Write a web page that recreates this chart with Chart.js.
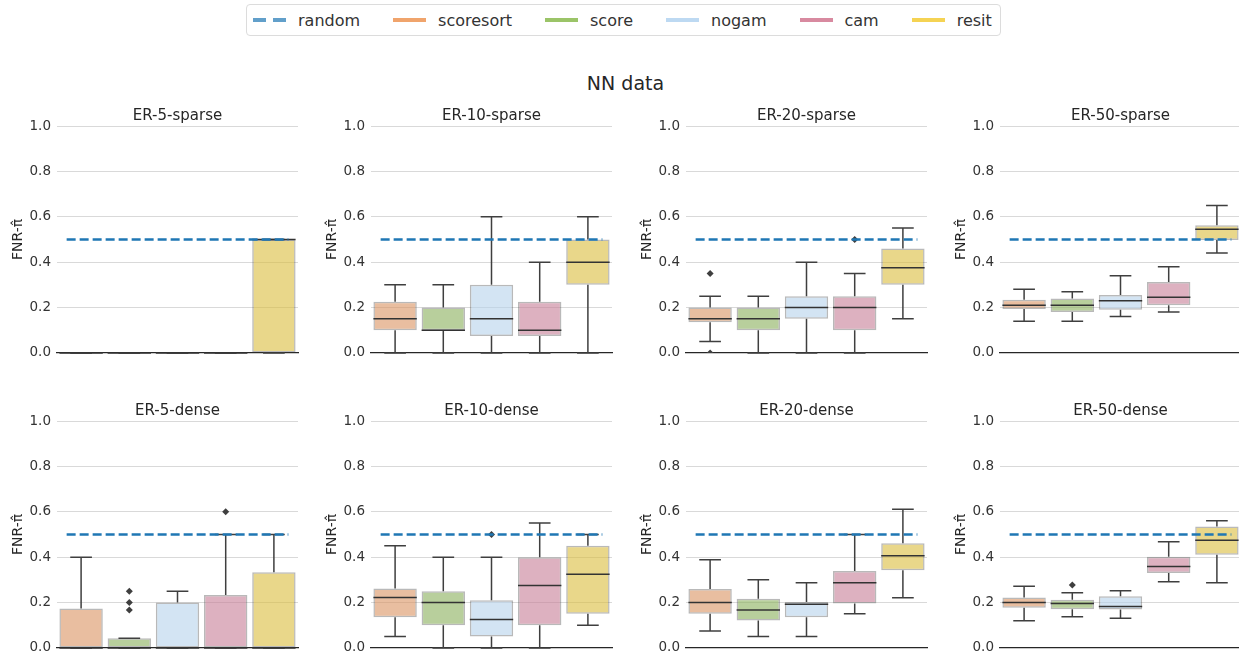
<!DOCTYPE html>
<html>
<head>
<meta charset="utf-8">
<script src="https://cdn.jsdelivr.net/npm/chart.js@4.4.0/dist/chart.umd.min.js"></script>
<style>
  body { margin: 0; background: #fff; font-family: 'DejaVu Sans', sans-serif; }
  #fig { position: relative; width: 1239px; height: 660px; overflow: hidden; }
  #fig canvas { position: absolute; }
  #suptitle { position: absolute; left: 0; width: 1251px; top: 72px; text-align: center; font-size: 19px; color: #262626; }
  #legend { position: absolute; left: 246px; top: 4px; height: 30px; padding: 0 8px 0 6px; border: 1px solid #dcdcdc; border-radius: 4px;
            display: flex; align-items: center; gap: 33px; font-size: 16px; color: #333; }
  .item { display: flex; align-items: center; gap: 12px; }
  .handle { width: 33px; height: 0; border-top: 4px solid; }
</style>
</head>
<body>
<div id="fig">
  <div id="legend"></div>
  <div id="suptitle">NN data</div>
</div>
<script>
const methods = ['scoresort', 'score', 'nogam', 'cam', 'resit'];
const panelTitles = ['ER-5-sparse', 'ER-10-sparse', 'ER-20-sparse', 'ER-50-sparse',
                     'ER-5-dense', 'ER-10-dense', 'ER-20-dense', 'ER-50-dense'];

// box statistics per panel, one row per panel, one value per method
const q1Values = [
  [0, 0, 0, 0, 0],
  [0.10, 0.10, 0.075, 0.075, 0.30],
  [0.135, 0.10, 0.15, 0.10, 0.30],
  [0.193, 0.18, 0.19, 0.21, 0.498],
  [0, 0, 0, 0, 0],
  [0.135, 0.10, 0.05, 0.10, 0.15],
  [0.15, 0.121, 0.135, 0.196, 0.342],
  [0.177, 0.17, 0.169, 0.33, 0.41]
];
const medianValues = [
  [0, 0, 0, 0, 0.5],
  [0.15, 0.10, 0.15, 0.10, 0.40],
  [0.15, 0.15, 0.20, 0.20, 0.375],
  [0.21, 0.21, 0.23, 0.245, 0.545],
  [0, 0, 0, 0, 0],
  [0.222, 0.20, 0.125, 0.275, 0.325],
  [0.20, 0.167, 0.192, 0.287, 0.406],
  [0.20, 0.196, 0.183, 0.359, 0.474]
];
const q3Values = [
  [0, 0, 0, 0, 0.5],
  [0.225, 0.20, 0.30, 0.225, 0.50],
  [0.20, 0.20, 0.25, 0.25, 0.46],
  [0.234, 0.24, 0.255, 0.313, 0.563],
  [0.174, 0.043, 0.20, 0.233, 0.333],
  [0.262, 0.25, 0.21, 0.40, 0.45],
  [0.26, 0.217, 0.202, 0.339, 0.461],
  [0.222, 0.212, 0.228, 0.402, 0.535]
];
const whiskerLow = [
  [0, 0, 0, 0, 0],
  [0, 0, 0, 0, 0],
  [0.05, 0, 0, 0, 0.15],
  [0.14, 0.14, 0.16, 0.18, 0.44],
  [0, 0, 0, 0, 0],
  [0.05, 0, 0, 0, 0.10],
  [0.075, 0.05, 0.05, 0.15, 0.221],
  [0.12, 0.137, 0.131, 0.291, 0.287]
];
const whiskerHigh = [
  [0, 0, 0, 0, 0.5],
  [0.30, 0.30, 0.60, 0.40, 0.60],
  [0.25, 0.25, 0.40, 0.35, 0.55],
  [0.28, 0.27, 0.34, 0.38, 0.65],
  [0.40, 0.043, 0.25, 0.50, 0.50],
  [0.45, 0.40, 0.40, 0.55, 0.50],
  [0.388, 0.30, 0.287, 0.50, 0.611],
  [0.272, 0.243, 0.252, 0.468, 0.56]
];
// outliers: [method index, value]
const outlierPoints = [
  [],
  [],
  [[0, 0.35], [0, 0.0], [3, 0.5]],
  [],
  [[1, 0.167], [1, 0.2], [1, 0.25], [3, 0.6]],
  [[2, 0.5]],
  [],
  [[1, 0.277]]
];
const randomLevel = 0.5;
const randomSpan = [-0.3, 4.3];

const boxColors = ['rgba(218,147,97,0.6)', 'rgba(137,175,90,0.6)', 'rgba(182,210,235,0.6)',
                   'rgba(198,125,150,0.6)', 'rgba(218,188,60,0.6)'];
const legendColors = ['#f0a46c', '#9bc468', '#bdd9f2', '#d88aa0', '#f5d353'];

// legend
const legend = document.getElementById('legend');
legend.innerHTML = '<div class="item"><span class="handle" style="border-top:4px dashed rgba(31,119,180,0.7);border-image:repeating-linear-gradient(90deg,rgba(31,119,180,0.7) 0 14px,transparent 14px 19px) 4"></span><span>random</span></div>' +
  methods.map((m, i) => '<div class="item"><span class="handle" style="border-color:' + legendColors[i] + '"></span><span>' + m + '</span></div>').join('');

Chart.defaults.font.family = "'DejaVu Sans', sans-serif";
Chart.defaults.color = '#333';

// whiskers, caps and medians drawn right after the boxes
const boxWhiskers = {
  id: 'boxWhiskers',
  afterDatasetDraw(chart, args) {
    if (args.index !== 0) return;
    const ds = chart.data.datasets[0];
    const y = chart.scales.y;
    const ctx = chart.ctx;
    ctx.save();
    ctx.lineWidth = 1.5;
    args.meta.data.forEach((bar, i) => {
      const p = bar.getProps(['x', 'width'], true);
      const half = p.width / 2;
      const yq1 = y.getPixelForValue(ds.q1[i]);
      const yq3 = y.getPixelForValue(ds.q3[i]);
      const ylo = y.getPixelForValue(ds.lo[i]);
      const yhi = y.getPixelForValue(ds.hi[i]);
      const ymed = y.getPixelForValue(ds.med[i]);
      ctx.strokeStyle = '#3f3f3f';
      ctx.beginPath();
      ctx.moveTo(p.x, yq1); ctx.lineTo(p.x, ylo);
      ctx.moveTo(p.x, yq3); ctx.lineTo(p.x, yhi);
      ctx.moveTo(p.x - half / 2, ylo); ctx.lineTo(p.x + half / 2, ylo);
      ctx.moveTo(p.x - half / 2, yhi); ctx.lineTo(p.x + half / 2, yhi);
      ctx.stroke();
      ctx.strokeStyle = '#333';
      ctx.beginPath();
      ctx.moveTo(p.x - half, ymed); ctx.lineTo(p.x + half, ymed);
      ctx.stroke();
    });
    ctx.restore();
  }
};

const fig = document.getElementById('fig');
panelTitles.forEach((title, k) => {
  const col = k % 4, row = Math.floor(k / 4);
  const canvas = document.createElement('canvas');
  canvas.width = 355;
  canvas.height = 260;
  canvas.style.left = Math.round(314.3 * col) + 'px';
  canvas.style.top = (row === 0 ? 107 : 402) + 'px';
  fig.appendChild(canvas);

  new Chart(canvas.getContext('2d'), {
    type: 'bar',
    data: {
      datasets: [{
        type: 'bar',
        data: q1Values[k].map((v, i) => ({ x: i, y: [v, q3Values[k][i]] })),
        q1: q1Values[k], q3: q3Values[k], med: medianValues[k],
        lo: whiskerLow[k], hi: whiskerHigh[k],
        backgroundColor: boxColors,
        borderColor: 'rgba(80,80,80,0.4)',
        borderWidth: 1.5,
        borderSkipped: false,
        grouped: false,
        barPercentage: 0.9,
        categoryPercentage: 1,
        order: 3
      }, {
        type: 'scatter',
        data: outlierPoints[k].map(o => ({ x: o[0], y: o[1] })),
        pointStyle: 'rectRot',
        pointRadius: 3.5,
        backgroundColor: '#3f3f3f',
        borderWidth: 0,
        order: 2
      }, {
        type: 'line',
        data: randomSpan.map(x => ({ x: x, y: randomLevel })),
        borderColor: '#1f77b4',
        borderWidth: 2.5,
        borderDash: [9, 4],
        pointRadius: 0,
        order: 1
      }]
    },
    options: {
      responsive: false,
      animation: false,
      layout: { autoPadding: false, padding: { top: 0, right: 0, bottom: 10, left: 0 } },
      plugins: {
        legend: { display: false },
        tooltip: { enabled: false },
        title: { display: true, text: title, color: '#262626', font: { size: 15, weight: 'normal' }, padding: { top: 0, bottom: 1 } }
      },
      scales: {
        x: {
          type: 'linear',
          min: -0.5, max: 4.5,
          offset: false,
          grid: { display: false, drawTicks: false },
          ticks: { display: false },
          border: { display: true, color: '#262626', width: 1.25 },
          afterBuildTicks(s) { s.ticks = methods.map((m, i) => ({ value: i })); },
          afterFit(s) { s.height = 0; }
        },
        y: {
          min: 0, max: 1,
          ticks: { stepSize: 0.2, padding: 6, font: { size: 13.5 }, color: '#333', callback: v => v.toFixed(1) },
          grid: { color: '#d9d9d9', drawTicks: false },
          border: { display: false },
          title: { display: true, text: 'FNR-π̂', font: { size: 14 }, color: '#262626', padding: { top: 10, bottom: 0 } },
          afterFit(s) { s.width = 57; }
        },
        y2: {
          position: 'right',
          grid: { display: false, drawTicks: false },
          ticks: { display: false },
          border: { display: false },
          afterFit(s) { s.width = 57; }
        }
      }
    },
    plugins: [boxWhiskers]
  });
});
</script>
</body>
</html>
